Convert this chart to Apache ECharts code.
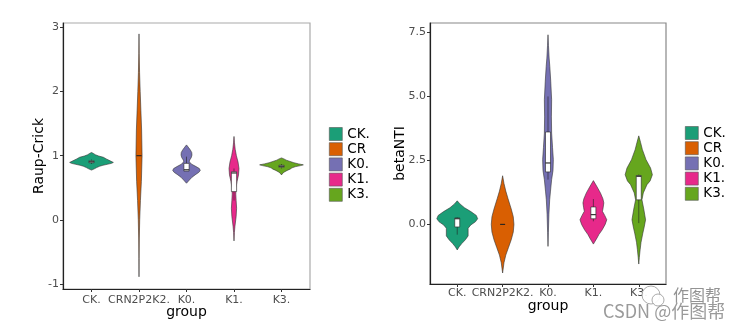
<!DOCTYPE html>
<html>
<head>
<meta charset="utf-8">
<script src="https://cdn.jsdelivr.net/npm/echarts@6/dist/echarts.min.js"></script>
<style>
  html, body { margin: 0; padding: 0; background: #ffffff; }
  #chart { width: 748px; height: 330px; }
</style>
</head>
<body>
<div id="chart"></div>
<script>
// Groups and their Dark2 colours
const groups = ['CK.', 'CRN2P2K2.', 'K0.', 'K1.', 'K3.'];
const groupColors = ['#1B9E77', '#D95F02', '#7570B3', '#E7298A', '#66A61E'];

// Raup-Crick tick labels
const rcTicks = [-1, 0, 1, 2, 3];
// betaNTI tick labels
const ntiTicks = [0, 2.5, 5, 7.5];

// Violin outlines: [value, half-width in group units], top to bottom
const rcCK  = [[1.05,0],[1.035,0.04],[1.015,0.08],[0.995,0.15],[0.975,0.25],[0.95,0.31],[0.92,0.39],[0.895,0.46],[0.88,0.42],[0.865,0.33],[0.85,0.24],[0.835,0.17],[0.815,0.11],[0.795,0.06],[0.775,0]];
const rcCRN = [[2.9,0],[2.6,0.004],[2.3,0.012],[2.0,0.025],[1.7,0.04],[1.4,0.055],[1.0,0.065],[0.6,0.05],[0.3,0.03],[0,0.015],[-0.3,0.006],[-0.6,0.002],[-0.89,0]];
const rcK0  = [[1.168,0],[1.13,0.04],[1.09,0.08],[1.05,0.11],[1.01,0.115],[0.97,0.1],[0.93,0.065],[0.905,0.06],[0.87,0.1],[0.83,0.2],[0.8,0.27],[0.77,0.29],[0.74,0.26],[0.7,0.18],[0.66,0.11],[0.62,0.06],[0.57,0]];
const rcK1  = [[1.3,0],[1.2,0.01],[1.1,0.025],[1.0,0.05],[0.9,0.085],[0.8,0.105],[0.7,0.095],[0.6,0.065],[0.5,0.042],[0.4,0.038],[0.3,0.045],[0.18,0.055],[0.05,0.045],[-0.1,0.02],[-0.2,0.008],[-0.33,0]];
const rcK3  = [[0.965,0],[0.95,0.05],[0.93,0.1],[0.91,0.18],[0.89,0.26],[0.872,0.36],[0.857,0.46],[0.845,0.4],[0.83,0.3],[0.81,0.22],[0.79,0.18],[0.77,0.12],[0.75,0.07],[0.73,0.03],[0.70,0]];

const ntiCK  = [[0.92,0],[0.8,0.06],[0.65,0.16],[0.5,0.3],[0.35,0.42],[0.22,0.45],[0.1,0.4],[-0.02,0.3],[-0.15,0.24],[-0.3,0.24],[-0.45,0.24],[-0.6,0.18],[-0.75,0.1],[-0.88,0.04],[-1.0,0]];
const ntiCRN = [[1.9,0],[1.6,0.03],[1.3,0.07],[1.0,0.12],[0.6,0.19],[0.3,0.235],[0,0.25],[-0.3,0.235],[-0.6,0.19],[-0.9,0.13],[-1.2,0.07],[-1.5,0.03],[-1.9,0]];
const ntiK0  = [[7.41,0],[7.0,0.01],[6.5,0.025],[6.17,0.04],[5.6,0.06],[4.87,0.08],[4.2,0.075],[3.57,0.08],[3.0,0.1],[2.53,0.118],[2.1,0.11],[1.75,0.08],[1.3,0.055],[0.96,0.037],[0.4,0.02],[-0.33,0.008],[-0.86,0]];
const ntiK1  = [[1.71,0],[1.5,0.07],[1.23,0.155],[1.0,0.21],[0.84,0.23],[0.65,0.215],[0.51,0.2],[0.35,0.25],[0.18,0.295],[0.0,0.26],[-0.21,0.195],[-0.4,0.12],[-0.53,0.08],[-0.65,0.04],[-0.77,0]];
const ntiK3  = [[3.46,0],[3.2,0.04],[2.92,0.08],[2.53,0.16],[2.2,0.26],[1.94,0.3],[1.7,0.25],[1.55,0.18],[1.23,0.1],[0.96,0.07],[0.6,0.11],[0.18,0.15],[-0.1,0.12],[-0.34,0.09],[-0.7,0.05],[-0.99,0.03],[-1.3,0.012],[-1.55,0]];

// Box summaries: [lower whisker, Q1, median, Q3, upper whisker]
const rcBoxes  = [[0.87,0.89,0.905,0.92,0.94],[1.0,1.0,1.0,1.0,1.0],[0.76,0.76,0.78,0.88,0.985],[0.3,0.44,0.73,0.75,0.8],[0.8,0.82,0.835,0.85,0.87]];
const ntiBoxes = [[-0.4,-0.1,0.22,0.25,0.27],[0,0,0,0,0],[1.75,2.05,2.4,3.61,5.0],[0.12,0.22,0.38,0.68,0.99],[0.05,0.96,1.88,1.91,1.95]];

const rcProfiles = [rcCK, rcCRN, rcK0, rcK1, rcK3];
const ntiProfiles = [ntiCK, ntiCRN, ntiK0, ntiK1, ntiK3];

const FONT = 'DejaVu Sans';
const chart = echarts.init(document.getElementById('chart'), null, { renderer: 'canvas' });

function violinSeries(panel, gi, profile, box) {
  return {
    type: 'custom',
    name: groups[gi],
    coordinateSystem: 'cartesian2d',
    xAxisIndex: panel,
    yAxisIndex: panel,
    itemStyle: { color: groupColors[gi] },
    clip: true,
    silent: true,
    data: [[gi + 1, box[2]]],
    renderItem: function (params, api) {
      const x = api.value(0);
      const leftSide = profile.map(p => api.coord([x - p[1], p[0]]));
      const rightSide = profile.slice().reverse().map(p => api.coord([x + p[1], p[0]]));
      const children = [{
        type: 'polygon',
        shape: { points: leftSide.concat(rightSide) },
        style: { fill: groupColors[gi], stroke: '#333333', lineWidth: 0.6 }
      }];
      const lo = box[0], q1 = box[1], med = box[2], q3 = box[3], hi = box[4];
      const bw = 0.055;
      const line = (a, b, w) => ({
        type: 'line',
        shape: { x1: a[0], y1: a[1], x2: b[0], y2: b[1] },
        style: { stroke: '#222222', lineWidth: w }
      });
      children.push(line(api.coord([x, lo]), api.coord([x, q1]), 0.6));
      children.push(line(api.coord([x, q3]), api.coord([x, hi]), 0.6));
      const tl = api.coord([x - bw, q3]);
      const br = api.coord([x + bw, q1]);
      if (q3 > q1) {
        children.push({
          type: 'rect',
          shape: { x: tl[0], y: tl[1], width: br[0] - tl[0], height: br[1] - tl[1] },
          style: { fill: '#ffffff', stroke: '#222222', lineWidth: 0.6 }
        });
      }
      children.push(line(api.coord([x - bw, med]), api.coord([x + bw, med]), 1.1));
      return { type: 'group', children: children };
    }
  };
}

const series = [];
groups.forEach((g, i) => series.push(violinSeries(0, i, rcProfiles[i], rcBoxes[i])));
groups.forEach((g, i) => series.push(violinSeries(1, i, ntiProfiles[i], ntiBoxes[i])));

const tickLabelStyle = { fontFamily: FONT, fontSize: 11, color: '#4d4d4d' };
const nameStyle = { fontFamily: FONT, fontSize: 14, color: '#000000' };

function xAxisFor(gridIndex, margin, gap) {
  return {
    gridIndex: gridIndex,
    type: 'value',
    min: 0.4,
    max: 5.6,
    name: 'group',
    nameLocation: 'middle',
    nameGap: gap,
    nameMoveOverlap: false,
    nameTextStyle: nameStyle,
    axisLine: { show: true, onZero: false, lineStyle: { color: '#222222', width: 1.2 } },
    axisTick: { show: true, length: 3, customValues: [1, 2, 3, 4, 5], lineStyle: { color: '#333333' } },
    axisLabel: Object.assign({ margin: margin, customValues: [1, 2, 3, 4, 5], formatter: v => groups[Math.round(v) - 1] }, tickLabelStyle),
    splitLine: { show: false }
  };
}

function legendFor(left, top) {
  return {
    left: left,
    top: top,
    orient: 'vertical',
    icon: 'rect',
    itemWidth: 13,
    itemHeight: 13,
    itemGap: 1.2,
    selectedMode: false,
    data: groups,
    itemStyle: { borderColor: '#555555', borderWidth: 0.6 },
    textStyle: { fontFamily: FONT, fontSize: 13.5, color: '#000000', lineHeight: 13, width: 25, overflow: 'truncate', ellipsis: '' }
  };
}

chart.setOption({
  animation: false,
  backgroundColor: '#ffffff',
  grid: [
    { left: 63, top: 23, width: 247, height: 266, show: true, borderColor: '#aaaaaa', borderWidth: 1.2, backgroundColor: 'transparent' },
    { left: 430, top: 23, width: 236, height: 261, show: true, borderColor: '#888888', borderWidth: 1.2, backgroundColor: 'transparent' }
  ],
  xAxis: [xAxisFor(0, 6, 16), xAxisFor(1, 4, 15)],
  yAxis: [
    {
      gridIndex: 0, type: 'value', min: -1.08, max: 3.07,
      name: 'Raup-Crick', nameLocation: 'middle', nameGap: 17, nameMoveOverlap: false, nameTextStyle: nameStyle,
      axisLine: { show: true, onZero: false, lineStyle: { color: '#222222', width: 1.2 } },
      axisTick: { show: true, length: 3, customValues: rcTicks, lineStyle: { color: '#333333' } },
      axisLabel: Object.assign({ margin: 4, customValues: rcTicks, formatter: v => String(v) }, tickLabelStyle),
      splitLine: { show: false }
    },
    {
      gridIndex: 1, type: 'value', min: -2.33, max: 7.87,
      name: 'betaNTI', nameLocation: 'middle', nameGap: 23, nameMoveOverlap: false, nameTextStyle: nameStyle,
      axisLine: { show: true, onZero: false, lineStyle: { color: '#222222', width: 1.2 } },
      axisTick: { show: true, length: 3, customValues: ntiTicks, lineStyle: { color: '#333333' } },
      axisLabel: Object.assign({ margin: 4, customValues: ntiTicks, formatter: v => v.toFixed(1) }, tickLabelStyle),
      splitLine: { show: false }
    }
  ],
  legend: [legendFor(324, 122), legendFor(680, 121)],
  series: series,
  graphic: [
    // watermark
    { type: 'circle', shape: { cx: 651, cy: 295, r: 9 }, style: { fill: 'rgba(255,255,255,0.9)', stroke: 'rgba(150,150,150,0.8)', lineWidth: 1 }, z: 100 },
    { type: 'circle', shape: { cx: 658, cy: 300, r: 6 }, style: { fill: 'rgba(255,255,255,0.9)', stroke: 'rgba(150,150,150,0.8)', lineWidth: 1 }, z: 100 },
    { type: 'text', left: 673, top: 287, style: { text: '作图帮', font: '16px "Noto Sans CJK SC"', fill: 'rgba(120,120,120,0.8)' }, z: 100 },
    { type: 'text', left: 603, top: 302, style: { text: 'CSDN @作图帮', font: '18px "Noto Sans CJK SC"', fill: 'rgba(120,120,120,0.75)' }, z: 100 }
  ]
});
</script>
</body>
</html>
